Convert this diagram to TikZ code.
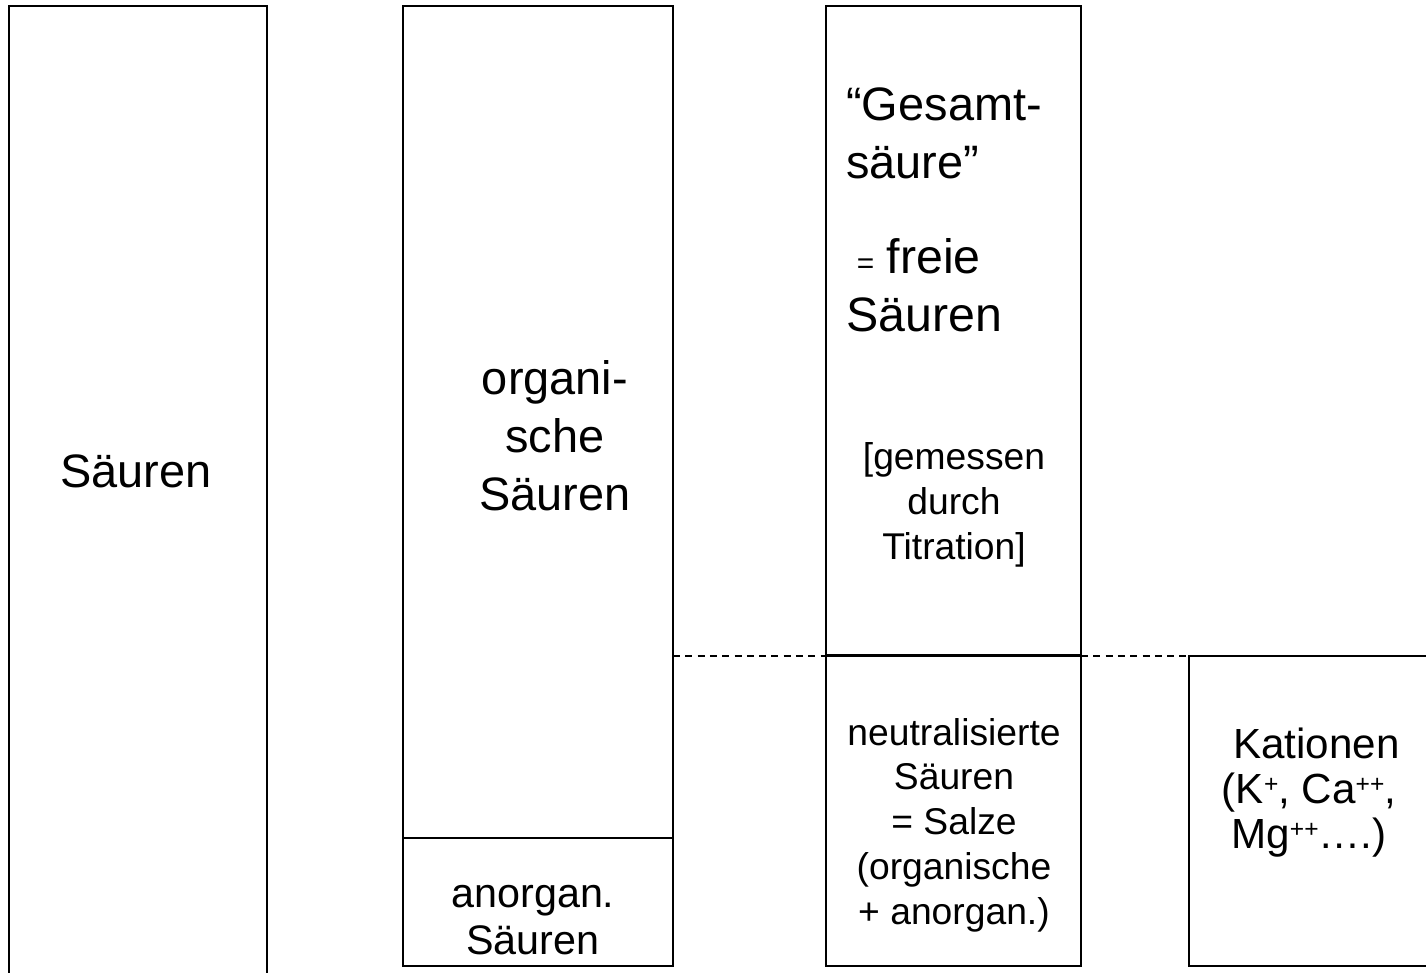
\documentclass[tikz,border=0pt]{standalone}
\usepackage{fontspec}
\setmainfont{Liberation Sans}
\newcommand{\ladung}[1]{\raisebox{0.5ex}{\fontsize{14}{14}\selectfont #1}}

\begin{document}
\begin{tikzpicture}[x=0.02cm,y=-0.02cm]
\tikzstyle{every node}+=[inner sep=0pt]
\tikzstyle{box}=[black,line width=0.8pt]
\tikzstyle{grenze}=[black,line width=0.7pt,dash pattern=on 4pt off 3pt]
\tikzstyle{gross}=[font=\fontsize{26.7}{33}\selectfont,align=center]
\tikzstyle{mittel}=[font=\fontsize{23.5}{26.5}\selectfont,align=center]
\tikzstyle{klein}=[font=\fontsize{21.2}{25.5}\selectfont,align=center]
\useasboundingbox (0,0) rectangle (1426,973);
\fill[white] (0,0) rectangle (1426,973);
\draw [box] (9,980) -- (9,6) -- (267,6) -- (267,980);
\draw (136,471) node [gross] (saeuren) {Säuren};
\draw [box] (403,6) rectangle (673,966);
\draw [box] (403,838) -- (673,838);
\draw (555,436) node [gross] (org) {organi-\\sche\\Säuren};
\draw (533,920) node [mittel] (anorg) {anorgan.\\Säuren};
\draw [box] (826,6) rectangle (1081,655);
\draw [box] (826,656) rectangle (1081,966);
\draw (846,133) node [gross,align=left,anchor=west] (gesamt) {“Gesamt-\\säure”};
\draw (846,285) node [gross,align=left,anchor=west] (frei) {\hspace*{6pt}{\fontsize{17}{17}\selectfont =}\hspace{7pt}{\fontsize{27.5}{33}\selectfont freie}\\{\fontsize{27.5}{33}\selectfont Säuren}};
\draw (954,505) node [klein] (titration) {[gemessen\\durch\\Titration]};
\draw (954,825) node [klein] (salze) {neutralisierte\\Säuren\\= Salze\\(organische\\+ anorgan.)};
\draw [box] (1430,656) -- (1189,656) -- (1189,966) -- (1430,966);
\draw (1309,793) node [mittel,font=\fontsize{24}{25.6}\selectfont] (kationen) {\hspace*{0.3cm}Kationen\\(K\ladung{+}, Ca\ladung{++},\\Mg\ladung{++}….)};
\coordinate (orgrechts) at (673,656);
\coordinate (neulinks) at (826,656);
\coordinate (neurechts) at (1081,656);
\coordinate (katlinks) at (1189,656);
\draw [grenze] (orgrechts) -- (neulinks);
\draw [grenze] (neurechts) -- (katlinks);
\end{tikzpicture}
\end{document}
